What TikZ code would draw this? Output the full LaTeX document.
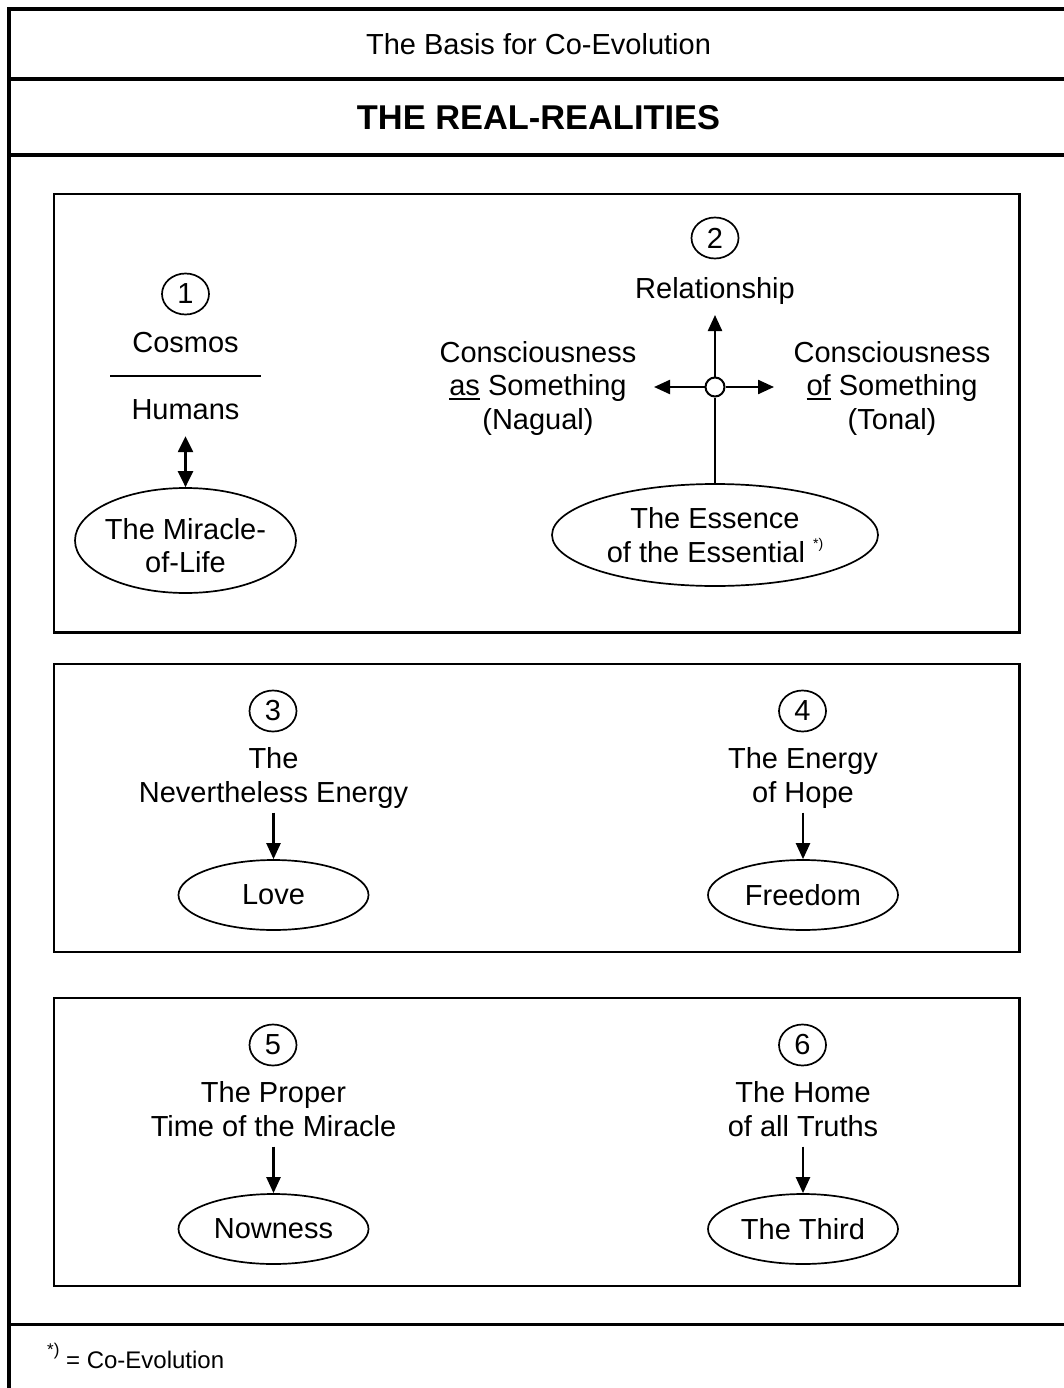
\documentclass[tikz,border=0pt]{standalone}
\usepackage{fontspec}
\setmainfont{Liberation Sans}
\usetikzlibrary{arrows.meta,shapes.geometric}
\newcommand{\myul}[1]{\setbox0\hbox{#1}\rlap{\rule[-4.5pt]{\wd0}{2pt}}\box0\relax}
\newcommand{\fnmark}{\raisebox{13.4pt}{\fontsize{14}{14}\selectfont *)}}
\begin{document}
\begin{tikzpicture}[x=1pt,y=-1pt,
  base/.style={font=\fontsize{29}{33.5}\selectfont},
  txt/.style={base, align=center, inner sep=0pt, execute at begin node=\strut, execute at end node=\strut},
  num/.style={ellipse, draw, line width=1.7pt, minimum width=47pt, minimum height=41pt, inner sep=0pt, base},
  oval/.style={ellipse, draw, line width=1.7pt, inner sep=0pt, align=center, base},
  panel/.style={draw, line width=2.3pt},
  arr/.style={line width=2.3pt, -{Triangle[length=16pt,width=14pt]}},
  darr/.style={line width=2.3pt, {Triangle[length=16pt,width=15pt]}-{Triangle[length=16pt,width=15pt]}},
  frame/.style={line width=4pt}]
\useasboundingbox (0,0) rectangle (1064,1388);
\clip (0,0) rectangle (1064,1388);
\fill[white] (0,0) rectangle (1064,1388);
% outer frame
\draw[frame] (9,1400) -- (9,9) -- (1080,9);
\draw[frame] (9,79) -- (1080,79);
\draw[frame] (9,155) -- (1080,155);
\draw[line width=2.3pt] (9,1324.5) -- (1080,1324.5);
% header
\node[base, anchor=base, inner sep=0pt] (hdr) at (538.5,54.4) {The Basis for Co-Evolution};
\node[font=\fontsize{34.4}{40}\selectfont\bfseries, anchor=base, inner sep=0pt] (title) at (538.5,129.3) {THE REAL-REALITIES};
% panels
\draw[panel] (54,194) rectangle (1019.5,632.5);
\draw[panel] (54,664) rectangle (1019.5,952);
\draw[panel] (54,998) rectangle (1019.5,1286);
% panel 1 left
\node[num] (n1) at (185.5,294) {1};
\node[txt] (cos) at (185.5,345.7) {Cosmos};
\draw[line width=1.7pt] (110,376) -- (261,376);
\node[txt] (hum) at (185.5,412.7) {Humans};
\node[oval, inner xsep=-4pt, minimum width=221pt, minimum height=105pt] (mir) at (185.5,540.5) {\rule{0pt}{31pt}The Miracle-\\of-Life};
\draw[darr, shorten <=6.5pt] (hum.south) -- (mir.north);
% panel 1 right
\node[num] (n2) at (715,238) {2};
\node[txt] (rel) at (715,291.7) {Relationship};
\node[txt] (cas) at (538,390.2) {Consciousness\\\myul{as} Something\\(Nagual)};
\node[txt] (cof) at (892,390.2) {Consciousness\\\myul{of} Something\\(Tonal)};
\node[oval, minimum width=326pt, minimum height=102pt] (ess) at (715,535) {The Essence\\of the Essential \fnmark};
\node[circle, draw, fill=white, line width=2pt, minimum size=19pt, inner sep=0pt] (sc) at (715,387) {};
\coordinate (uptip) at (715,315);
\coordinate (lttip) at (654,387);
\coordinate (rttip) at (774,387);
\draw[arr] (sc) -- (uptip);
\draw[arr] (sc) -- (lttip);
\draw[arr] (sc) -- (rttip);
\draw[line width=2.3pt] (ess.north) -- (sc);
% panel 2
\node[num] (n3) at (273,711) {3};
\node[txt] (t3) at (273.5,780.2) {The\\Nevertheless Energy};
\node[oval, minimum width=190pt, minimum height=70pt] (love) at (273.5,895) {Love};
\draw[arr] (t3.south) -- (love.north);
\node[num] (n4) at (802.5,711) {4};
\node[txt] (t4) at (803,780.2) {The Energy\\of Hope};
\node[oval, minimum width=190pt, minimum height=70pt] (free) at (803,895) {Freedom};
\draw[arr] (t4.south) -- (free.north);
% panel 3
\node[num] (n5) at (273,1045) {5};
\node[txt] (t5) at (273.5,1114.2) {The Proper\\Time of the Miracle};
\node[oval, minimum width=190pt, minimum height=70pt] (now) at (273.5,1229) {Nowness};
\draw[arr] (t5.south) -- (now.north);
\node[num] (n6) at (802.5,1045) {6};
\node[txt] (t6) at (803,1114.2) {The Home\\of all Truths};
\node[oval, minimum width=190pt, minimum height=70pt] (third) at (803,1229) {The Third};
\draw[arr] (t6.south) -- (third.north);
% footnote
\node[font=\fontsize{24}{28}\selectfont, anchor=base west, inner sep=0pt] (fn) at (47,1368.5) {\raisebox{12.6pt}{\fontsize{17}{17}\selectfont *)} = Co-Evolution};
\end{tikzpicture}
\end{document}
